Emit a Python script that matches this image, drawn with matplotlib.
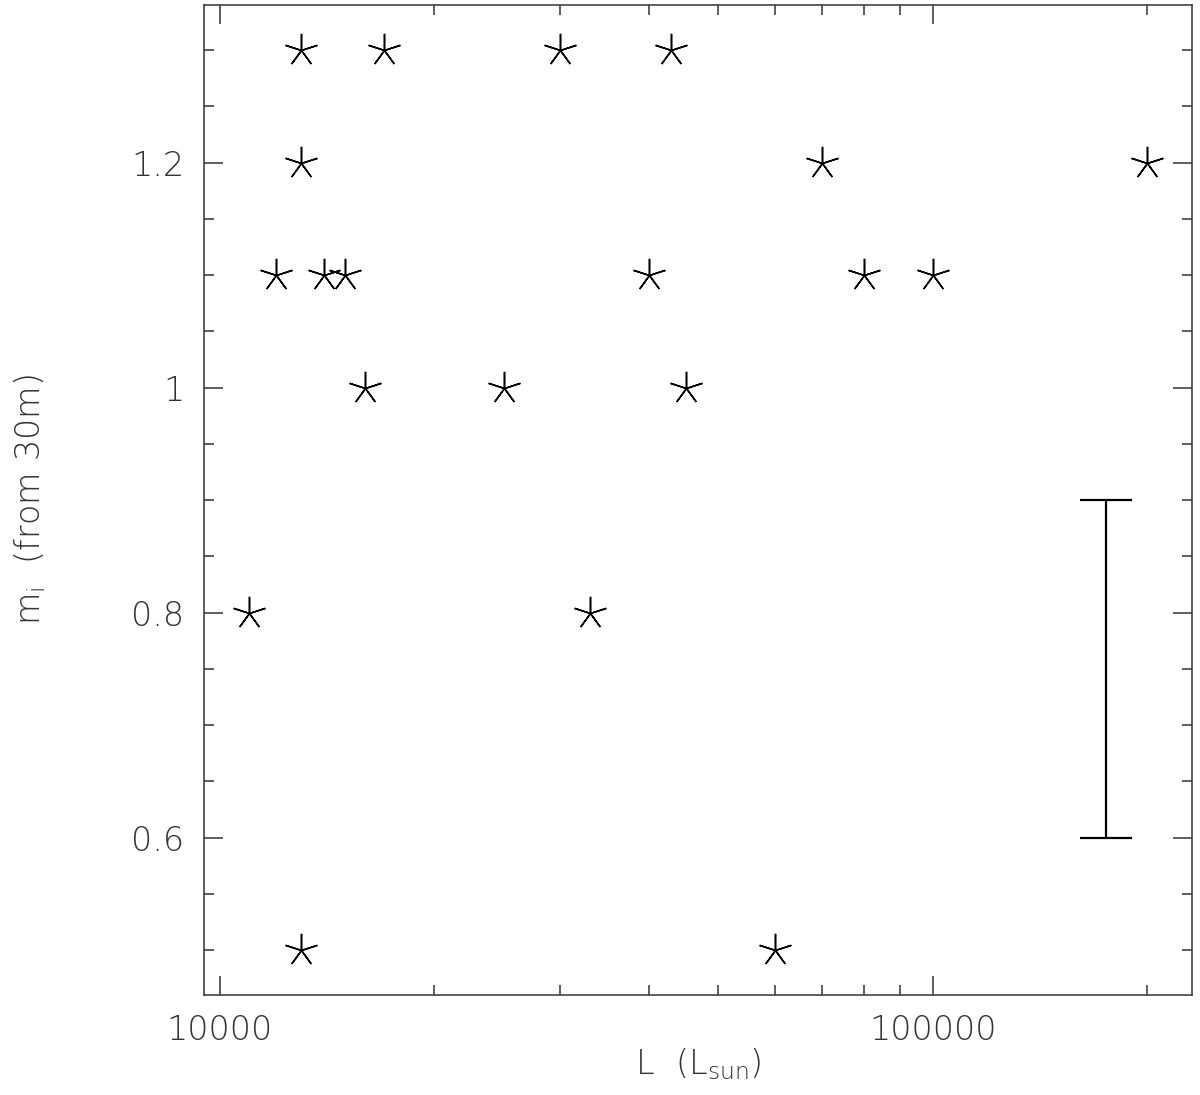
import matplotlib.pyplot as plt
from matplotlib.ticker import FixedLocator, NullFormatter, MultipleLocator

# luminosity (L_sun) and m_i values
lum = [11000, 12000, 13000, 13000, 13000, 14000, 15000, 16000, 17000,
       25000, 30000, 33000, 40000, 43000, 45000, 60000, 70000, 80000,
       100000, 200000]
m_i = [0.8, 1.1, 1.3, 1.2, 0.5, 1.1, 1.1, 1.0, 1.3,
       1.0, 1.3, 0.8, 1.1, 1.3, 1.0, 0.5, 1.2, 1.1,
       1.1, 1.2]

# typical error bar
err_x = 175000
err_y = 0.75
err_half = 0.15

grey = '#333333'
plt.rcParams['font.weight'] = 'light'
plt.rcParams['mathtext.fontset'] = 'custom'
plt.rcParams['mathtext.rm'] = 'DejaVu Sans:weight=light'
plt.rcParams['mathtext.default'] = 'rm'

fig = plt.figure(figsize=(12, 10.95), dpi=100)
ax = fig.add_axes([0.17, 0.0913, 0.8233, 0.9041])

ax.plot(lum, m_i, linestyle='none', marker=(5, 2, 0), markersize=24,
        markeredgewidth=1.1, color='black')
ax.errorbar([err_x], [err_y], yerr=[err_half], fmt='none', ecolor='black',
            elinewidth=1.6, capsize=19, capthick=1.6)

ax.set_xscale('log')
ax.set_xlim(9500, 231000)
ax.set_ylim(0.46, 1.34)

ax.xaxis.set_major_locator(FixedLocator([10000, 100000]))
ax.xaxis.set_minor_locator(FixedLocator([20000, 30000, 40000, 50000, 60000,
                                         70000, 80000, 90000, 200000]))
ax.xaxis.set_minor_formatter(NullFormatter())
ax.set_xticklabels(['10000', '100000'])

ax.yaxis.set_major_locator(FixedLocator([0.6, 0.8, 1.0, 1.2]))
ax.yaxis.set_minor_locator(MultipleLocator(0.05))
ax.set_yticklabels(['0.6', '0.8', '1', '1.2'])

ax.tick_params(which='both', direction='in', top=True, right=True,
               color=grey, labelcolor=grey, labelsize=24, width=1.1)
ax.tick_params(which='major', length=14, pad=14)
ax.tick_params(which='minor', length=7)
for s in ax.spines.values():
    s.set_color(grey)
    s.set_linewidth(1.1)

ax.set_xlabel(r'$\mathrm{L\ \ (L_{sun})}$', fontsize=24, color=grey)
ax.set_ylabel(r'$\mathrm{m_{i}\ \ (from\ 30m)}$', fontsize=24, color=grey)
ax.xaxis.set_label_coords(0.5, -0.052)
ax.yaxis.set_label_coords(-0.158, 0.5)

fig.savefig('out.png', dpi=100)
